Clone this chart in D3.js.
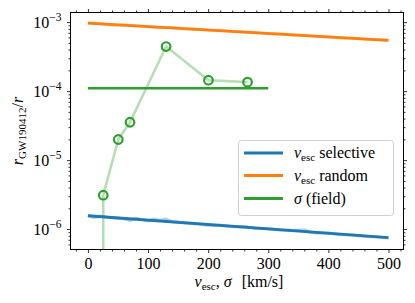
<!DOCTYPE html>
<html><head><meta charset="utf-8">
<script src="https://cdn.jsdelivr.net/npm/d3@7"></script>
</head>
<body style="margin:0;background:#fff">
<script>
// ---- data ----
const fitX = [0, 500];
const selectiveFit = [1.56e-6, 7.5e-7];
const randomFit = [9.67e-4, 5.45e-4];
const fieldX = [0, 300];
const fieldLevel = [1.105e-4, 1.105e-4];

const selectiveRawX = [0,10,20,30,40,50,60,70,80,90,100,110,120,130,140,150,160,180,200,220,240,260,280,300,320,340,360,370,380,400,420,440,460,480,500];
const selectiveRaw = [1.58e-6,1.47e-6,1.55e-6,1.50e-6,1.46e-6,1.44e-6,1.41e-6,1.33e-6,1.44e-6,1.37e-6,1.31e-6,1.40e-6,1.33e-6,1.40e-6,1.28e-6,1.26e-6,1.24e-6,1.20e-6,1.14e-6,1.14e-6,1.08e-6,1.09e-6,1.02e-6,1.01e-6,0.97e-6,0.96e-6,0.97e-6,0.90e-6,0.88e-6,0.88e-6,0.83e-6,0.82e-6,0.78e-6,0.77e-6,0.74e-6];

const randomRawX = [0,20,40,60,80,100,120,140,160,180,200,220,240,260,280,300,320,340,360,380,400,420,440,460,480,500];
const randomRaw = [9.8e-4,9.5e-4,9.0e-4,9.1e-4,8.9e-4,8.6e-4,8.2e-4,8.4e-4,8.0e-4,7.9e-4,7.7e-4,7.6e-4,7.3e-4,7.2e-4,7.05e-4,6.8e-4,6.8e-4,6.5e-4,6.45e-4,6.2e-4,6.1e-4,5.9e-4,5.85e-4,5.65e-4,5.55e-4,5.45e-4];

const fieldPointsX = [25.5, 50.5, 70, 130, 200.5, 265.5];
const fieldPoints = [3.1e-6, 1.99e-5, 3.54e-5, 4.43e-4, 1.44e-4, 1.35e-4];
// curve runs down to the bottom of the axis before the first point
const fieldCurveX = [25.5, 25.5, 50.5, 70, 130, 200.5, 265.5];
const fieldCurve = [5.06e-7, 3.1e-6, 1.99e-5, 3.54e-5, 4.43e-4, 1.44e-4, 1.35e-4];

const xTicks = [0, 100, 200, 300, 400, 500];
const yTicks = [1e-6, 1e-5, 1e-4, 1e-3];
const yTickExp = ["−6", "−5", "−4", "−3"];
const legendLabels = [["v", "esc", " selective"], ["v", "esc", " random"], ["σ", "", " (field)"]];

// ---- layout ----
const W = 415, H = 303;
const L = 70.5, R = 403.5, T = 12.5, B = 249.5;
const C = {blue: "#1f77b4", orange: "#ff7f0e", green: "#2ca02c"};
const FONT = '"Liberation Serif", "Times New Roman", Times, serif';
function serif(sel, size) {
  sel.attr("font-family", "Liberation Serif, Times New Roman, serif")
     .style("font-size", size + "px").style("font-family", FONT).attr("fill", "#000");
  return sel;
}

const svg = d3.select("body").append("svg").attr("width", W).attr("height", H)
  .style("display", "block").style("font-family", FONT);
const x = d3.scaleLinear().domain([-29, 525]).range([L, R]);
const y = d3.scaleLog().domain([5.06e-7, 1.38e-3]).range([B, T]);
const g = svg.append("g");

const line = (xs, ys) => d3.line().x((d, i) => x(xs[i])).y(d => y(d))(ys);

// light raw lines
g.append("path").attr("d", line(randomRawX, randomRaw)).attr("fill", "none")
  .attr("stroke", C.orange).attr("stroke-opacity", 0.35).attr("stroke-width", 3).attr("stroke-linejoin", "round");
g.append("path").attr("d", line(selectiveRawX, selectiveRaw)).attr("fill", "none")
  .attr("stroke", C.blue).attr("stroke-opacity", 0.35).attr("stroke-width", 3).attr("stroke-linejoin", "round");
g.append("path").attr("d", line(fieldCurveX, fieldCurve)).attr("fill", "none")
  .attr("stroke", C.green).attr("stroke-opacity", 0.35).attr("stroke-width", 2.6).attr("stroke-linejoin", "round");

// fits
g.append("path").attr("d", line(fitX, selectiveFit)).attr("fill", "none").attr("stroke", C.blue).attr("stroke-width", 2.8);
g.append("path").attr("d", line(fitX, randomFit)).attr("fill", "none").attr("stroke", C.orange).attr("stroke-width", 2.8);
g.append("path").attr("d", line(fieldX, fieldLevel)).attr("fill", "none").attr("stroke", C.green).attr("stroke-width", 2.5);

// points
g.selectAll("circle.pt").data(fieldPoints).enter().append("circle")
  .attr("cx", (d, i) => x(fieldPointsX[i])).attr("cy", d => y(d)).attr("r", 4.3)
  .attr("fill", "none").attr("stroke", C.green).attr("stroke-width", 2.2);

// axes
const minorX = d3.range(-20, 521, 20).filter(v => v % 100 !== 0);
const minorY = [];
[1e-7, 1e-6, 1e-5, 1e-4, 1e-3].forEach(dec => { for (let k = 2; k <= 9; k++) minorY.push(k * dec); });
const minorYin = minorY.filter(v => v >= y.domain()[0] && v <= y.domain()[1]);

function styleAxis(sel) {
  sel.attr("font-family", null).attr("font-size", null);
  sel.select(".domain").remove();
  sel.selectAll("line").attr("stroke", "#000").attr("stroke-width", 0.8);
}
// bottom
const gb = svg.append("g").attr("transform", `translate(0,${B})`)
  .call(d3.axisBottom(x).tickValues(xTicks).tickSize(3.5).tickPadding(5).tickFormat(d3.format("d")));
styleAxis(gb);
serif(gb.selectAll("text"), 16);
svg.append("g").attr("transform", `translate(0,${B})`).call(d3.axisBottom(x).tickValues(minorX).tickSize(2).tickFormat("")).call(styleAxis);
// top
svg.append("g").attr("transform", `translate(0,${T})`).call(d3.axisTop(x).tickValues(xTicks).tickSize(3.5).tickFormat("")).call(styleAxis);
svg.append("g").attr("transform", `translate(0,${T})`).call(d3.axisTop(x).tickValues(minorX).tickSize(2).tickFormat("")).call(styleAxis);
// left
const gl = svg.append("g").attr("transform", `translate(${L},0)`)
  .call(d3.axisLeft(y).tickValues(yTicks).tickSize(3.5).tickPadding(5).tickFormat(""));
styleAxis(gl);
gl.selectAll(".tick").append("text").call(serif, 16).attr("x", -9).attr("dy", "0.32em").attr("text-anchor", "end")
  .each(function (d, i) {
    const t = d3.select(this);
    t.append("tspan").text("10");
    t.append("tspan").style("font-size", "11.5px").attr("dy", "-0.62em").text(yTickExp[i]);
  });
svg.append("g").attr("transform", `translate(${L},0)`).call(d3.axisLeft(y).tickValues(minorYin).tickSize(2).tickFormat("")).call(styleAxis);
// right
svg.append("g").attr("transform", `translate(${R},0)`).call(d3.axisRight(y).tickValues(yTicks).tickSize(3.5).tickFormat("")).call(styleAxis);
svg.append("g").attr("transform", `translate(${R},0)`).call(d3.axisRight(y).tickValues(minorYin).tickSize(2).tickFormat("")).call(styleAxis);

// frame
svg.append("rect").attr("x", L).attr("y", T).attr("width", R - L).attr("height", B - T)
  .attr("fill", "none").attr("stroke", "#000").attr("stroke-width", 1);

// x label
const xl = svg.append("text").call(serif, 16).attr("x", (L + R) / 2 + 2).attr("y", 287).attr("text-anchor", "middle");
xl.append("tspan").style("font-style", "italic").text("v");
xl.append("tspan").style("font-size", "11px").attr("dy", 3).text("esc");
xl.append("tspan").attr("dy", -3).text(", ");
xl.append("tspan").style("font-style", "italic").text("σ");
xl.append("tspan").attr("dx", 10).text("[km/s]");

// y label
const yl = svg.append("text").call(serif, 16).attr("transform", `translate(23,${(T + B) / 2}) rotate(-90)`)
  .attr("text-anchor", "middle");
yl.append("tspan").style("font-style", "italic").text("r");
yl.append("tspan").style("font-size", "11px").attr("dy", 3).text("GW190412");
yl.append("tspan").attr("dy", -3).text("/");
yl.append("tspan").style("font-style", "italic").text("r");

// legend
const lg = svg.append("g");
lg.append("rect").attr("x", 238.5).attr("y", 140.5).attr("width", 155).attr("height", 75).attr("rx", 3)
  .attr("fill", "#fff").attr("fill-opacity", 0.8).attr("stroke", "#d0d0d0").attr("stroke-width", 1);
const lcol = [C.blue, C.orange, C.green];
const rowsY = [153, 175.5, 198.5];
legendLabels.forEach((lab, i) => {
  lg.append("line").attr("x1", 244).attr("x2", 283).attr("y1", rowsY[i]).attr("y2", rowsY[i])
    .attr("stroke", lcol[i]).attr("stroke-width", 2.8);
  const t = lg.append("text").call(serif, 16).attr("x", 294).attr("y", rowsY[i] + 5);
  t.append("tspan").style("font-style", "italic").text(lab[0]);
  if (lab[1]) {
    t.append("tspan").style("font-size", "11px").attr("dy", 3).text(lab[1]);
    t.append("tspan").attr("dy", -3).text(lab[2]);
  } else {
    t.append("tspan").text(lab[2]);
  }
});
</script>
</body></html>
